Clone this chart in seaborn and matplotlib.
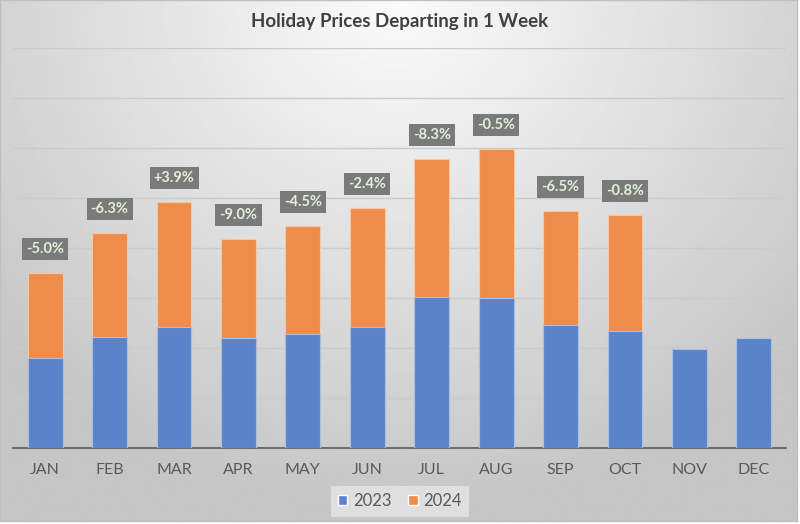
import numpy as np
import pandas as pd
import matplotlib
matplotlib.use("Agg")
import matplotlib.pyplot as plt
import seaborn as sns
from matplotlib.patches import Patch

sns.set_theme(style="white")
plt.rcParams['font.family'] = ['Lato', 'DejaVu Sans']

# ==========================
# DADOS
# ==========================
meses = ["JAN", "FEB", "MAR", "APR", "MAY", "JUN", "JUL", "AUG", "SEP", "OCT", "NOV", "DEC"]
precos_2023 = [1.80, 2.22, 2.42, 2.20, 2.28, 2.42, 3.02, 3.00, 2.46, 2.34, 1.98, 2.20]
precos_2024 = [1.70, 2.08, 2.50, 1.98, 2.16, 2.38, 2.76, 2.98, 2.28, 2.32, 0.0, 0.0]
variacao = ["-5.0%", "-6.3%", "+3.9%", "-9.0%", "-4.5%", "-2.4%", "-8.3%", "-0.5%", "-6.5%", "-0.8%", None, None]

df = pd.DataFrame({"mes": meses, "y2023": precos_2023, "y2024": precos_2024})
df["total"] = df["y2023"] + df["y2024"]

cor_2023 = "#5b83c9"
cor_2024 = "#ee8d4b"

# ==========================
# FIGURA
# ==========================
fig = plt.figure(figsize=(8, 5.24), dpi=100)
fig.patch.set_facecolor("white")

# fundo com gradiente (estilo Excel)
bg = fig.add_axes([0.0, 0.006, 0.996, 0.994])
gx, gy = np.meshgrid(np.linspace(0, 1, 400), np.linspace(0, 1, 260))
r = np.sqrt((gx - 0.5) ** 2 + (gy * 0.7) ** 2) / 0.62
tom = 0.985 - 0.19 * np.clip(r, 0, 1.1)
bg.imshow(tom, cmap="gray", vmin=0, vmax=1, aspect="auto", extent=[0, 1, 0, 1], origin="upper")
bg.set_xlim(0, 1)
bg.set_ylim(0, 1)
bg.set_xticks([])
bg.set_yticks([])
for s in bg.spines.values():
    s.set_color("#bfbfbf")
    s.set_linewidth(1)
bg.set_zorder(0)

ax = fig.add_axes([13 / 800, 1 - 448 / 524, 773 / 800, 400 / 524])
ax.set_facecolor("none")
ax.set_zorder(1)

# barras empilhadas: total (laranja) e 2023 (azul) por cima
sns.barplot(data=df, x="mes", y="total", color=cor_2024, width=0.54, saturation=1,
            edgecolor="#f6c7a5", linewidth=0.8, ax=ax, zorder=3)
sns.barplot(data=df, x="mes", y="y2023", color=cor_2023, width=0.54, saturation=1,
            edgecolor="#a9bfe6", linewidth=0.8, ax=ax, zorder=4)

# rótulos de variação
for i, txt in enumerate(variacao):
    if txt is None:
        continue
    ax.text(i, df["total"][i] + 0.48, txt, ha="center", va="center", fontsize=10.5,
            fontweight="bold", color="#e2efd9", zorder=6,
            bbox=dict(boxstyle="square,pad=0.28", facecolor="#7a7a7a", edgecolor="none"))

ax.set_ylim(0, 8)
ax.set_xlim(-0.5, 11.5)
ax.set_yticks(np.arange(1, 9))
ax.yaxis.grid(True, color="#cbcbcb", linewidth=1)
ax.set_axisbelow(True)
ax.tick_params(axis="y", left=False, labelleft=False)
ax.set_xlabel("")
ax.set_ylabel("")

# eixo x com marcas entre categorias
ax.set_xticks(np.arange(12))
ax.set_xticklabels(meses, fontsize=11.5, color="#595959")
ax.tick_params(axis="x", length=0, pad=11)
ax.set_xticks(np.arange(-0.5, 12, 1), minor=True)
ax.tick_params(axis="x", which="minor", length=5, width=1.2, color="#595959", direction="out")
for lado in ["left", "right", "top"]:
    ax.spines[lado].set_visible(False)
ax.spines["bottom"].set_color("#595959")
ax.spines["bottom"].set_linewidth(1.2)

fig.text(0.5, 1 - 22 / 524, "Holiday Prices Departing in 1 Week", ha="center", va="center",
         fontsize=13.5, fontweight="bold", color="#404040")

handles = [Patch(facecolor=cor_2023, label="2023"), Patch(facecolor=cor_2024, label="2024")]
leg = fig.legend(handles=handles, loc="center", bbox_to_anchor=(0.5, 1 - 501 / 524), ncol=2,
                 frameon=True, fontsize=12, handlelength=0.55, handleheight=0.55,
                 handletextpad=0.35, columnspacing=1.0, borderpad=0.45, fancybox=False)
leg.get_frame().set_facecolor("#e6e6e6")
leg.get_frame().set_edgecolor("none")
for t in leg.get_texts():
    t.set_color("#595959")

plt.savefig("out.png", dpi=100, facecolor="white")
